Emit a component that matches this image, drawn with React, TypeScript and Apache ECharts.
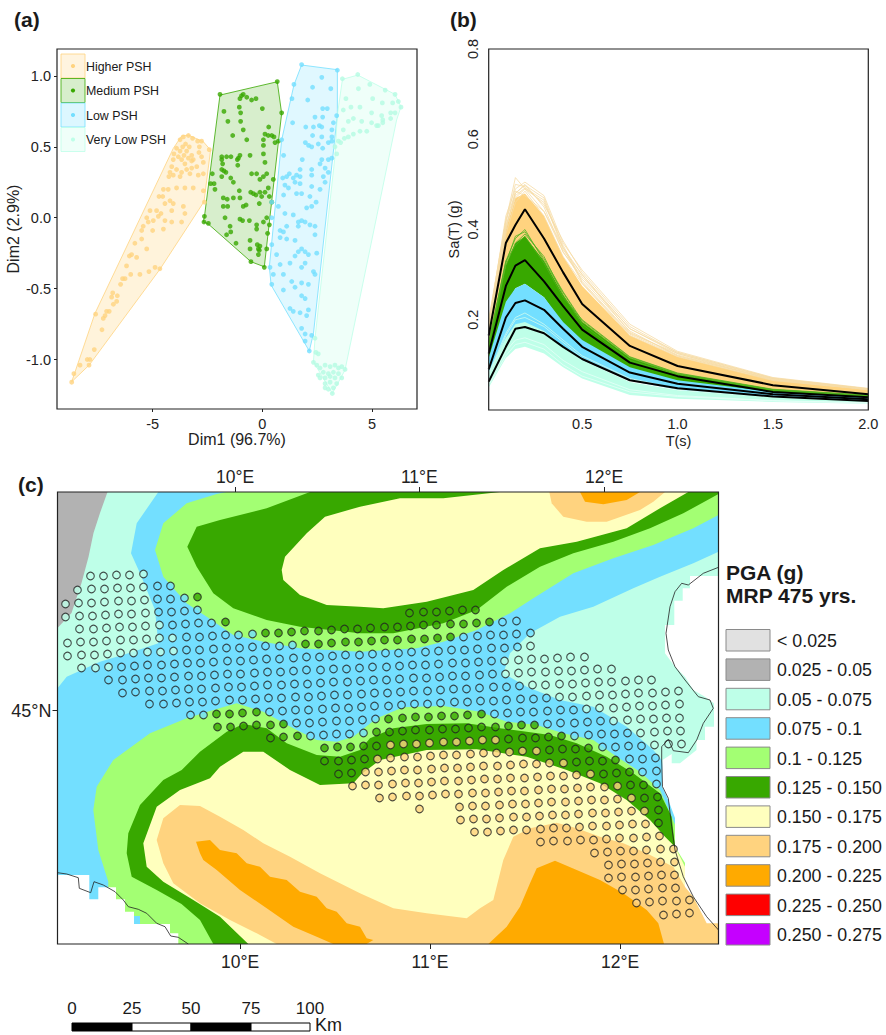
import React, { useEffect, useRef } from "react";
import * as echarts from "echarts";

type P = number[];
const FONT = "Liberation Sans";
const ORANGE = "#FFD37F", GREEN = "#38A800", BLUE = "#73DFFF", MINT = "#BEFFE8";

// ---------- (a) PCA scores, Dim1 / Dim2 ----------
const higherPts: P[] = [[-8.69,-1.16],[-8.59,-1.1],[-8.31,-1.04],[-7.98,-1],[-7.86,-1],[-7.9,-1.04],[-7.66,-.93],[-7.6,-.68],[-7.31,-.79],[-7.25,-.71],[-7.17,-.69],[-7.1,-.66],[-6.98,-.66],[-6.87,-.56],[-6.82,-.53],[-6.64,-.59],[-6.79,-.61],[-6.61,-.55],[-6.46,-.47],[-6.37,-.43],[-6.26,-.43],[-6.19,-.34],[-6,-.4],[-6.06,-.27],[-5.96,-.26],[-5.81,-.18],[-5.73,-.28],[-5.5,-.15],[-5.27,-.22],[-5.58,-.4],[-5.17,-.38],[-4.89,-.35],[-4.67,-.36],[-5.5,-.09],[-5.43,-.06],[-5.27,0],[-5.12,.05],[-5,-.09],[-5.2,-.03],[-4.97,-.02],[-4.82,.05],[-4.51,-.08],[-4.44,-.02],[-4.74,.01],[-4.62,.03],[-4.13,-.03],[-4.13,.05],[-4.71,.15],[-4.51,.2],[-4.29,.2],[-4.54,.15],[-4.21,.12],[-4.06,.1],[-4.44,.1],[-3.6,.08],[-3.53,.03],[-3.68,-.03],[-3.91,.21],[-3.53,.21],[-3.15,.21],[-2.69,.19],[-2.64,.11],[-4.26,.29],[-4.21,.32],[-4.13,.36],[-4.06,.41],[-4.03,.45],[-3.91,.49],[-3.75,.55],[-3.6,.57],[-3.37,.58],[-3.18,.56],[-2.95,.54],[-2.77,.54],[-2.42,.48],[-3.83,.43],[-3.75,.47],[-3.63,.5],[-3.5,.52],[-3.68,.41],[-3.57,.44],[-3.45,.47],[-3.33,.5],[-3.53,.38],[-3.37,.42],[-3.22,.44],[-3.22,.4],[-2.87,.5],[-2.89,.46],[-2.77,.43],[-2.69,.39],[-2.99,.36],[-3.22,.35],[-3.45,.34],[-3.68,.32],[-3.91,.34],[-4.06,.3],[-3.75,.29],[-3.3,.31],[-2.92,.3],[-2.69,.31],[-3.15,.41]];
const mediumPts: P[] = [[-1.93,.87],[.68,.96],[.88,.74],[-.87,.87],[-.95,.86],[-1.02,.84],[-1.05,.78],[-.99,.74],[-.71,.85],[-.49,.83],[-.29,.84],[0,.77],[-1.75,.75],[-1.57,.68],[-.99,.68],[-.87,.62],[-1.35,.58],[-.71,.55],[.29,.64],[.05,.55],[.12,.59],[.27,.58],[.43,.58],[.53,.57],[.58,.53],[.73,.54],[.05,.51],[.05,.45],[.12,.39],[-1.85,.43],[-1.85,.41],[-1.63,.43],[-1.43,.43],[-1.02,.44],[-1.09,.42],[-1.14,.41],[-.56,.44],[-1.81,.38],[-1.85,.34],[-1.75,.33],[-1.66,.32],[-2.28,.31],[-2.36,.24],[-2.2,.24],[-2.16,.2],[-1.85,.29],[-1.44,.28],[-1.32,.25],[-1.12,.37],[-.49,.31],[-.26,.31],[-.11,.27],[.05,.29],[.2,.31],[.5,.27],[-1.78,.14],[-1.6,.13],[-1.32,.14],[-1.05,.19],[-1.02,.14],[-.53,.18],[-.41,.17],[-.29,.16],[-.11,.18],[-.03,.15],[.12,.18],[.27,.21],[.32,.15],[-.74,.09],[-.87,.08],[-.14,.1],[.43,.11],[-1.78,.08],[-1.58,.08],[-1.7,0],[-1.02,-.01],[-.9,-.02],[-.59,-.02],[.05,-.03],[.2,0],[.32,-.05],[-2.64,.01],[-2.66,-.03],[-2.46,-.04],[-1.47,-.06],[-.26,-.05],[-.26,-.08],[-1.44,-.1],[-1.63,-.12],[-1.2,-.18],[-.56,-.16],[.24,-.11],[.2,-.22],[-.23,-.19],[-.18,-.22],[-.11,-.2],[-.14,-.23],[-.18,-.26],[-.56,-.22],[-.52,-.31],[.09,-.35]];
const lowPts: P[] = [[1.79,1.08],[3.42,1.04],[2.71,.99],[1.44,.94],[2.29,.92],[3.12,.91],[1.35,.84],[2.07,.83],[2.75,.77],[2.96,.77],[3.39,.72],[2.75,.71],[2.4,.71],[1.38,.67],[3.24,.67],[2.6,.65],[2.71,.64],[1.98,.64],[2.33,.64],[3.17,.62],[2.29,.58],[2.71,.57],[3.17,.57],[.88,.55],[1.96,.53],[2.11,.51],[2.25,.5],[2.55,.52],[3.01,.53],[3.17,.54],[2.75,.49],[.97,.44],[1.82,.41],[2.71,.41],[3.01,.41],[3.17,.42],[2.63,.38],[2.86,.35],[1.72,.34],[2.25,.34],[3.01,.32],[1.23,.31],[1.11,.29],[.93,.28],[1.41,.28],[1.56,.3],[1.72,.29],[2.25,.3],[2.78,.29],[2.86,.25],[1.03,.23],[1.49,.25],[1.19,.21],[1.72,.24],[2.25,.22],[2.63,.2],[.97,.16],[1.56,.17],[1.79,.17],[2.17,.15],[.43,.11],[.73,.08],[2.45,.11],[2.25,.08],[2.02,.07],[1.03,.03],[1.41,.02],[1.64,-.03],[1.79,-.02],[1.95,-.03],[2.17,-.05],[2.4,-.06],[.43,0],[1.11,-.06],[.96,-.1],[.81,-.09],[1.64,-.06],[2.4,-.12],[1.11,-.15],[.81,-.14],[1.49,-.16],[.43,-.19],[.65,-.26],[1.79,-.22],[1.64,-.24],[1.95,-.24],[1.49,-.27],[2.1,-.26],[2.48,-.25],[.35,-.35],[.81,-.33],[1.26,-.32],[1.79,-.35],[1.95,-.32],[2.33,-.38],[2.4,-.4],[.5,-.4],[.96,-.4],[1.34,-.45],[1.79,-.46],[2.1,-.47],[.43,-.47],[.96,-.51],[1.49,-.49],[1.79,-.55],[1.95,-.57],[1.26,-.64],[1.41,-.66],[1.72,-.67],[2.02,-.69],[2.1,-.65],[1.79,-.78],[1.95,-.82],[2.25,-.83],[1.95,-.87],[2.14,-.94]];
const veryLowPts: P[] = [[3.65,.98],[4.35,1.01],[4.38,.91],[4.9,.94],[5.6,.9],[6.05,.87],[3.81,.84],[5.03,.84],[5.47,.81],[6.2,.82],[6.32,.78],[5.94,.81],[4.45,.78],[4.04,.78],[3.69,.76],[5.44,.72],[4.98,.74],[5.85,.74],[6.05,.74],[4.15,.7],[3.92,.68],[5.85,.7],[5.49,.69],[4.53,.68],[4.98,.67],[5.49,.67],[5.21,.65],[3.69,.62],[4.45,.61],[4.76,.61],[5.29,.65],[4.15,.59],[3.92,.57],[3.74,.56],[3.47,.54],[3.57,.53],[3.31,.5],[3.39,.45],[2.4,-.85],[2.44,-.95],[2.55,-.96],[2.33,-1.02],[2.48,-1.04],[2.63,-1.06],[2.86,-1.04],[3.09,-1.05],[3.31,-1.04],[3.47,-1.06],[3.77,-1.07],[3.62,-1.05],[2.55,-1.11],[2.78,-1.09],[3.01,-1.1],[3.24,-1.09],[3.47,-1.1],[2.63,-1.13],[2.86,-1.13],[3.09,-1.12],[3.31,-1.13],[3.62,-1.13],[2.86,-1.17],[3.09,-1.16],[3.39,-1.17],[2.86,-1.2],[3.01,-1.21],[3.19,-1.24],[3.24,-1.2]];
const higherHull: P[] = [[-8.69,-1.157],[-7.63,-.675],[-4.06,.489],[-3.68,.576],[-3.37,.583],[-2.69,.536],[-2.36,.477],[-2.66,.113],[-4.67,-.364],[-7.89,-1.039]];
const mediumHull: P[] = [[-1.93,.865],[.68,.959],[.88,.736],[.09,-.346],[-.52,-.31],[-2.46,-.045],[-2.69,-.028],[-2.64,.007]];
const lowHull: P[] = [[1.79,1.077],[3.42,1.044],[3.42,.724],[2.33,-.816],[2.14,-.94],[.4,-.475],[.32,-.346],[.88,.548],[1.44,.936]];
const veryLowHull: P[] = [[3.65,.976],[4.35,1.006],[6.05,.87],[6.32,.783],[6.12,.689],[3.77,-1.074],[3.19,-1.239],[2.33,-1.016],[2.4,-.851],[3.31,.43],[3.42,.724]];
const pshNames = ["Higher PSH", "Medium PSH", "Low PSH", "Very Low PSH"];
const dim1Ticks = [-5, 0, 5];
const dim2Ticks = [-1, -.5, 0, .5, 1];

// ---------- (b) spectra ----------
const periods = [.01,.1,.15,.2,.3,.4,.5,.75,1,1.5,2];
const orangeUpper = [.19,.4,.47,.48,.43,.34,.275,.165,.118,.066,.045];
const orangeLower = [.10,.24,.27,.28,.26,.20,.16,.095,.065,.038,.028];
const greenUpper = [.15,.32,.37,.385,.33,.255,.195,.115,.08,.045,.032];
const greenLower = [.10,.23,.27,.28,.25,.19,.15,.09,.06,.036,.024];
const blueUpper = [.115,.24,.27,.28,.25,.195,.155,.095,.066,.04,.027];
const blueLower = [.07,.15,.18,.185,.17,.14,.11,.065,.045,.028,.019];
const mintUpper = [.085,.16,.19,.195,.175,.14,.11,.062,.044,.028,.019];
const mintLower = [.05,.115,.135,.14,.125,.095,.07,.033,.025,.018,.014];
const orangeLines = [
  [.20,.42,.515,.49,.44,.36,.30,.18,.125,.07,.047],
  [.19,.43,.49,.505,.475,.37,.31,.19,.13,.072,.048],
  [.18,.40,.48,.50,.45,.35,.29,.175,.12,.068,.045],
  [.19,.41,.47,.49,.46,.365,.285,.17,.125,.066,.046],
  [.17,.39,.46,.485,.43,.34,.28,.165,.118,.065,.045],
  [.18,.40,.485,.475,.44,.35,.295,.18,.128,.07,.046],
  [.185,.415,.5,.495,.455,.375,.305,.185,.127,.071,.047],
  [.175,.405,.475,.492,.465,.355,.3,.172,.122,.069,.046],
  [.195,.42,.48,.498,.47,.36,.282,.168,.12,.067,.046],
];
const greenLines = [
  [.15,.33,.38,.40,.33,.26,.195,.115,.08,.045,.032],
  [.14,.32,.37,.39,.34,.255,.19,.11,.078,.044,.031],
  [.145,.33,.365,.385,.325,.25,.2,.118,.082,.046,.033],
  [.15,.325,.385,.395,.335,.262,.198,.117,.081,.045,.032],
];
const mintLines = [
  [.08,.17,.205,.215,.19,.155,.12,.07,.047,.03,.02],
  [.075,.165,.2,.205,.185,.15,.115,.068,.046,.029,.02],
];
const paleLines = [
  [.06,.13,.155,.16,.145,.11,.085,.045,.032,.021,.016],
  [.055,.12,.145,.15,.135,.1,.075,.04,.03,.02,.015],
];
const meanHigher = [.165,.37,.41,.445,.38,.305,.235,.142,.0975,.055,.035];
const meanMedium = [.125,.275,.32,.332,.285,.23,.178,.105,.075,.04,.028];
const meanLow = [.09,.205,.237,.243,.222,.18,.14,.083,.058,.035,.024];
const meanVeryLow = [.063,.14,.18,.184,.17,.14,.113,.066,.048,.03,.02];
const periodTicks = [.5, 1, 1.5, 2];
const saTicks = [.2, .4, .6, .8];

// ---------- (c) map, in map units east / south of the sheet's NW corner ----------
const grayZone: P[] = [[0,0],[50,0],[42.5,21],[36,41],[31,65],[24,91],[14,121],[0,136]];
const blueZone: P[] = [[100.8,0],[661,0],[661,59.7],[635.8,71.3],[602.5,84.7],[575.8,96.3],[535.8,114.7],[502.5,124.7],[472.5,141.3],[452.5,161.3],[445.8,181.3],[469.2,194.7],[502.5,208],[535.8,214.7],[569.2,234.7],[595.8,258],[604.2,268],[610,300],[661,452],[0,452],[0,196.3],[9.2,184.7],[42.5,169.7],[75.8,159.7],[100.8,151.3],[97.5,118],[82.5,81.3],[73.5,61.3],[79.2,31.3]];
const lightGreenN: P[] = [[169,0],[661,0],[661,23],[635.8,36.3],[595.8,53],[555.8,66.3],[515.8,81.3],[475.8,106.3],[452.5,121.3],[419.2,138],[385.8,149.7],[359.2,156.3],[302.5,159.7],[242.5,156.3],[205.8,149.7],[175.8,143],[149.2,124.7],[129.2,111.3],[105.8,84.7],[97.5,58],[105.8,31.3],[129.2,11.3],[159.2,2]];
const lightGreenS: P[] = [[129.2,226.3],[155.8,218],[179.2,211.3],[205.8,219.7],[235.8,236.3],[259.2,248],[279.2,249.7],[295.8,244.7],[319.2,226.3],[345.8,215.3],[385.8,214],[422.5,219.7],[449.2,229.7],[479.2,233],[505.8,241.3],[535.8,248],[559.2,264.7],[582.5,279.7],[602.5,298],[625,350],[661,452],[50,452],[50.8,389.7],[40.8,358],[35.8,318],[39.2,294.7],[55.8,268],[92.5,241.3]];
const darkGreenN: P[] = [[129.8,54.7],[139.2,34.7],[162.5,28],[209.2,16.3],[252.5,0],[661,0],[661,2],[625.8,21.3],[592.5,36.3],[555.8,49.7],[515.8,61.3],[482.5,74.7],[449.2,94.7],[419.2,118],[385.8,131.3],[335.8,141.3],[302.5,141.3],[242.5,134.7],[209.2,128],[175.8,116.3],[155.8,101.3],[139.2,74.7]];
const darkGreenS: P[] = [[69.2,361.3],[70.8,341.3],[82.5,313],[105.8,288],[124.2,278],[142.5,259.7],[169.2,239.7],[185.8,232],[209.2,236.3],[229.2,251.3],[259.2,263],[282.5,264.7],[302.5,258],[312.5,246.3],[335.8,236.3],[369.2,232],[409.2,231.3],[442.5,236.3],[469.2,239.7],[492.5,243],[519.2,251.3],[549.2,264.7],[575.8,281.3],[602.5,301.3],[614.2,324.7],[617.5,354.7],[620,452],[155.8,452],[142.5,428],[124,412],[99.2,398],[74.2,384.7]];
const yellowN: P[] = [[224.2,78],[227.5,64.7],[249.2,41.3],[267.5,24.7],[302.5,14.7],[342.5,6.3],[385.8,6.3],[442.5,0],[630.8,0],[602.5,16.3],[569.2,36.3],[519.2,49.7],[482.5,56.3],[445.8,78],[415.8,98],[369.2,109.7],[325.8,116.3],[302.5,114.7],[269.2,113],[242.5,103],[225.8,88]];
const yellowS: P[] = [[85.8,351.3],[99.2,314.7],[122.5,298],[152.5,286.3],[162.5,274.7],[185.8,259.7],[205.8,259.7],[232.5,278],[262.5,293],[295.8,291.3],[304,282],[322.5,268],[369.2,258],[419.2,257.3],[469.2,264.7],[509.2,278],[542.5,291.3],[569.2,308],[592.5,328],[607.5,344.7],[617.5,354.7],[627.5,374.7],[635.8,404.7],[661,452],[190.8,452],[162.5,424.7],[135.8,408],[105.8,389.7],[89.2,374.7]];
const paleOrangeN: P[] = [[491.8,0],[494.2,11.3],[505.8,24.7],[529.2,29.7],[549.2,29.7],[582.5,18],[595.8,9.7],[607.5,0]];
const paleOrangeS: P[] = [[99.2,348],[105.8,326.3],[122.5,313],[142.5,314],[162.5,324.7],[185.8,338],[205.8,351.3],[232.5,364.7],[262.5,381.3],[302.5,401.3],[335.8,416.3],[369.2,421.3],[409.2,426.3],[422.5,416.3],[435.8,408],[445.8,368],[455.8,344.7],[472.5,336.3],[499.2,330.7],[519.2,336.3],[542.5,344.7],[565.8,351.3],[589.2,361.3],[615.8,374.7],[627.5,394.7],[635.8,404.7],[649.2,429.7],[661,431.3],[661,452],[219.2,452],[199.2,441.3],[172.5,428],[142.5,411.3],[115.8,391.3],[105.8,371.3]];
const strongOrangeN: P[] = [[522.5,0],[527.5,9.7],[545.8,12.3],[569.2,8],[582.5,0]];
const strongOrangeSW: P[] = [[138.5,349.7],[152.5,348],[162.5,358],[179.2,361.3],[189.2,371.3],[202.5,374.7],[212.5,384.7],[229.2,388],[242.5,399.7],[259.2,404.7],[269.2,416.3],[279.2,419.7],[289.2,431.3],[302.5,434.7],[309.2,446.3],[315.8,448],[309,452],[275.8,452],[259.2,444.7],[235.8,434.7],[209.2,416.3],[182.5,398],[159.2,378],[145.8,368],[142.5,361.3]];
const strongOrangeSE: P[] = [[430.8,452],[449.2,434.7],[462.5,414.7],[472.5,391.3],[479.2,376.3],[497.5,368.7],[519.2,378],[542.5,388],[565.8,401.3],[589.2,418],[600.8,431.3],[606.5,452]];
const noDataSW: P[] = [[0,383],[31.8,383],[31.8,407.3],[40.8,407.3],[40.8,395.3],[58.5,395.3],[58.5,407.3],[67.5,407.3],[67.5,419.7],[76.5,419.7],[76.5,432],[112.5,432],[112.5,441.3],[120.8,441.3],[120.8,452],[0,452]];
const noDataE: P[] = [[661,84],[632.5,84],[632.5,96.3],[625.2,96.3],[625.2,108.7],[616.8,108.7],[616.8,133],[607.5,133],[607.5,161.3],[617.5,174.7],[627.5,184.7],[635.8,198],[647.5,204.7],[656.5,211.3],[656.5,234.7],[647.5,234.7],[647.5,248],[639,248],[639,258],[622.5,271.3],[614.2,271.3],[614.2,262],[605,268],[604.5,294.7],[610.8,308],[617.5,326],[617.5,354.7],[627.5,371],[627.5,394.7],[635.8,404.7],[649.2,431.3],[661,431.3]];
const bluePatch: P[] = [[76.5,424],[82.5,424],[82.5,432],[76.5,432]];
const coastE: P[] = [[661,75.3],[645.8,81.3],[630.8,93],[624.2,91.3],[617.5,99.7],[612.5,114.7],[608.5,141.3],[610.8,158],[617.5,174.7],[627.5,188],[640.8,204.7],[652.5,208],[655.8,216.3],[645.8,231.3],[639.2,248],[630.8,260.7],[615.8,258.7],[610.8,247.3],[604.2,254.7],[604.2,268],[605,294.7],[610.8,306.3],[614.2,334.7],[617.5,358],[625.8,384.7],[635.8,404.7],[649.2,424.7],[661,438]];
const coastSW: P[] = [[0,380.7],[9.2,382],[20.8,385.7],[21.8,396.3],[33.2,400.7],[36.5,389.7],[45.8,393],[57.5,399.7],[65.8,408],[70.8,414.7],[80.8,417.3],[89.2,421.3],[99.2,431.3],[107.5,434.7],[113.2,444],[120.8,445.3],[130.8,452]];

const sitesMint: P[] = [[33,84],[46,84],[59,83],[72,83],[86,82],[20,98],[34,97],[47,97],[60,96],[73,96],[86,95],[8,112],[21,111],[34,111],[47,110],[61,109],[74,109],[87,108],[8,125],[22,124],[35,124],[48,123],[61,122],[74,122],[88,121],[22,137],[36,137],[49,136],[62,135],[75,135],[88,134],[102,133],[10,151],[23,150],[36,150],[49,149],[63,148],[76,148],[89,147],[102,146],[115,146],[10,164],[24,163],[37,163],[50,162],[63,161],[76,161],[90,160],[103,160],[116,159],[24,176],[38,176],[51,175],[473,154],[447,169],[461,168],[474,167],[487,167],[500,166],[513,165],[527,165],[448,182],[461,181],[474,180],[488,180],[501,179],[514,179],[527,178],[540,177],[554,177],[475,193],[488,193],[502,192],[515,192],[528,191],[541,190],[554,190],[568,189],[581,188],[594,188],[502,205],[515,205],[529,204],[542,203],[555,203],[568,202],[581,201],[595,201],[608,200],[621,199],[529,217],[542,216],[556,216],[569,215],[582,214],[595,214],[608,213],[622,212],[556,229],[570,228],[583,227],[596,227],[609,226],[622,226],[583,241],[597,240],[610,239],[623,239],[597,253],[611,252],[624,252]];
const sitesBlue: P[] = [[100,94],[113,94],[100,107],[113,107],[127,106],[101,120],[114,120],[127,119],[140,118],[115,133],[128,132],[141,131],[154,131],[129,145],[142,145],[155,144],[168,143],[181,143],[195,142],[445,130],[459,129],[129,158],[142,158],[156,157],[169,156],[182,156],[195,155],[208,154],[222,154],[235,153],[406,145],[420,144],[433,143],[446,143],[459,142],[473,141],[64,175],[77,174],[90,173],[104,173],[117,172],[130,171],[143,171],[156,170],[170,169],[183,169],[196,168],[209,167],[222,167],[236,166],[249,165],[262,165],[275,164],[288,163],[302,163],[315,162],[328,161],[341,161],[354,160],[368,160],[381,159],[394,158],[407,158],[420,157],[434,156],[447,156],[460,155],[51,188],[65,188],[78,187],[91,186],[104,186],[117,185],[131,184],[144,184],[157,183],[170,182],[183,182],[197,181],[210,180],[223,180],[236,179],[249,178],[263,178],[276,177],[289,177],[302,176],[315,175],[329,175],[342,174],[355,173],[368,173],[381,172],[395,171],[408,171],[421,170],[434,169],[65,201],[78,200],[92,199],[105,199],[118,198],[131,197],[144,197],[158,196],[171,195],[184,195],[197,194],[210,193],[224,193],[237,192],[250,192],[263,191],[276,190],[290,190],[303,189],[316,188],[329,188],[342,187],[356,186],[369,186],[382,185],[395,184],[408,184],[422,183],[435,182],[92,212],[106,212],[119,211],[132,210],[145,210],[158,209],[172,208],[185,208],[198,207],[211,206],[224,206],[238,205],[251,205],[264,204],[277,203],[290,203],[304,202],[317,201],[330,201],[343,200],[356,199],[370,199],[383,198],[396,197],[409,197],[422,196],[436,195],[449,195],[462,194],[133,223],[146,223],[212,220],[225,219],[238,218],[251,218],[265,217],[278,216],[291,216],[304,215],[317,214],[331,214],[344,213],[357,212],[370,212],[383,211],[397,210],[410,210],[423,209],[436,209],[449,208],[463,207],[476,207],[489,206],[239,231],[252,231],[265,230],[279,229],[292,229],[305,228],[318,227],[437,222],[450,221],[463,220],[476,220],[490,219],[503,218],[516,218],[253,244],[266,243],[279,242],[292,242],[306,241],[490,232],[503,231],[517,231],[530,230],[543,229],[517,244],[531,243],[544,242],[557,242],[570,241],[545,255],[558,255],[571,254],[584,254],[572,267],[585,267],[598,266],[585,280],[599,279],[599,292]];
const sitesGreen: P[] = [[140,105],[168,130],[352,121],[366,120],[379,120],[392,119],[405,118],[418,118],[208,141],[221,141],[234,140],[247,139],[261,139],[274,138],[287,137],[300,137],[313,136],[327,135],[340,135],[353,134],[366,133],[379,133],[393,132],[406,132],[419,131],[432,130],[248,152],[261,152],[274,151],[288,150],[301,150],[314,149],[327,148],[340,148],[354,147],[367,147],[380,146],[393,145],[159,222],[172,222],[185,221],[199,220],[160,235],[173,235],[186,234],[199,233],[213,233],[226,232],[331,227],[345,226],[358,225],[371,225],[384,224],[397,224],[410,223],[424,222],[213,246],[226,245],[240,244],[319,240],[332,240],[345,239],[358,238],[372,238],[385,237],[398,237],[411,236],[424,235],[438,235],[451,234],[464,233],[477,233],[267,256],[280,255],[293,255],[306,254],[319,254],[451,247],[465,246],[478,246],[491,245],[504,244],[267,269],[281,269],[294,268],[307,267],[492,258],[505,257],[518,257],[531,256],[281,282],[294,281],[519,270],[532,269],[545,269],[558,268],[546,282],[559,281],[572,280],[573,293],[586,293],[587,306],[600,305],[601,318],[601,331]];
const sitesOrange: P[] = [[333,253],[346,252],[359,252],[372,251],[386,250],[399,250],[412,249],[425,248],[438,248],[320,267],[333,266],[347,265],[360,265],[373,264],[386,263],[399,263],[413,262],[426,261],[439,261],[452,260],[465,259],[479,259],[308,280],[321,280],[334,279],[347,278],[360,278],[374,277],[387,276],[400,276],[413,275],[426,274],[440,274],[453,273],[466,272],[479,272],[492,271],[506,271],[295,294],[308,293],[321,293],[335,292],[348,291],[361,291],[374,290],[387,289],[401,289],[414,288],[427,287],[440,287],[453,286],[467,286],[480,285],[493,284],[506,284],[519,283],[533,282],[322,306],[335,305],[349,304],[362,304],[375,303],[388,302],[401,302],[415,301],[428,301],[441,300],[454,299],[467,299],[481,298],[494,297],[507,297],[520,296],[533,295],[547,295],[560,294],[362,317],[402,315],[415,314],[428,314],[442,313],[455,312],[468,312],[481,311],[494,310],[508,310],[521,309],[534,308],[547,308],[560,307],[574,306],[403,328],[416,327],[429,327],[442,326],[456,325],[469,325],[482,324],[495,323],[508,323],[521,322],[535,321],[548,321],[561,320],[574,319],[587,319],[417,340],[430,340],[443,339],[456,338],[469,338],[483,337],[496,336],[509,336],[522,335],[535,334],[549,334],[562,333],[575,332],[588,332],[483,350],[496,349],[510,349],[523,348],[536,348],[549,347],[562,346],[576,346],[589,345],[602,344],[537,361],[550,360],[563,359],[576,359],[589,358],[603,357],[616,357],[551,373],[564,372],[577,372],[590,371],[603,370],[617,370],[551,386],[564,385],[578,385],[591,384],[604,383],[617,383],[565,398],[578,398],[591,397],[605,396],[618,396],[579,411],[592,410],[605,409],[619,409],[632,408],[606,423],[619,422],[632,421]];

const topLonTicks = [177.5, 361.8, 546.5];
const bottomLonTicks = [182.5, 372.5, 562.5];
const lonLabels = ["10°E", "11°E", "12°E"];
const latTicks = [218.5];
const pgaClasses = ["< 0.025","0.025 - 0.05","0.05 - 0.075","0.075 - 0.1","0.1 - 0.125","0.125 - 0.150","0.150 - 0.175","0.175 - 0.200","0.200 - 0.225","0.225 - 0.250","0.250 - 0.275"];
const pgaColors = ["#E1E1E1","#B2B2B2",MINT,BLUE,"#A3FF73",GREEN,"#FFFFBE",ORANGE,"#FFAA00","#FF0000","#C500FF"];
const scaleLabels = ["0","25","50","75","100"];

const polygon = (pts: P[], fill: string, xi: number, yi: number, fillOpacity = 1, stroke?: string) => ({
  type: "custom", xAxisIndex: xi, yAxisIndex: yi, data: [pts[0]], silent: true,
  encode: { x: 0, y: 1 },
  renderItem: (_: any, api: any) => ({
    type: "polygon",
    shape: { points: pts.map((p) => api.coord(p)) },
    style: { fill, fillOpacity, stroke: stroke || "none", lineWidth: stroke ? 0.8 : 0 },
  }),
});
const band = (upper: number[], lower: number[], fill: string) =>
  polygon([...periods.map((t, i) => [t, upper[i]]), ...periods.map((t, i) => [t, lower[i]]).reverse()], fill, 1, 1);
const curve = (vals: number[], color: string, width: number, opacity = 1) => ({
  type: "line", xAxisIndex: 1, yAxisIndex: 1, showSymbol: false, silent: true,
  data: periods.map((t, i) => [t, vals[i]]),
  lineStyle: { color, width, opacity },
});
const dots = (pts: P[], color: string) => ({
  type: "scatter", xAxisIndex: 0, yAxisIndex: 0, data: pts, symbolSize: 4.8, silent: true, clip: false,
  itemStyle: { color },
});
const sites = (pts: P[], color: string) => ({
  type: "scatter", xAxisIndex: 2, yAxisIndex: 2, data: pts, symbolSize: 7.6, silent: true, clip: false,
  itemStyle: { color, borderColor: "#222", borderWidth: 1.1 },
});
const coast = (pts: P[]) => ({
  type: "line", xAxisIndex: 2, yAxisIndex: 2, data: pts, showSymbol: false, silent: true,
  lineStyle: { color: "#222", width: 0.8 },
});
const txt = (text: string, x: number, y: number, fontSize: number, bold = false, textAlign = "left") => ({
  type: "text", z: 200, silent: true,
  style: { text, x, y, fill: "#1a1a1a", fontFamily: FONT, fontSize, fontWeight: bold ? "bold" : "normal", textAlign, textVerticalAlign: "middle" },
});
const frame = (x: number, y: number, width: number, height: number) => ({
  type: "rect", z: 150, silent: true, shape: { x, y, width, height },
  style: { fill: "none", stroke: "#222", lineWidth: 1.2 },
});
const noLine = { show: false, onZero: false };
const tickStyle = { lineStyle: { color: "#222", width: 1 } };

export default function App() {
  const ref = useRef<HTMLDivElement>(null);
  useEffect(() => {
    document.body.style.margin = "0";
    const chart = echarts.init(ref.current!, null, { renderer: "svg" });
    const pshColors = [ORANGE, GREEN, BLUE, MINT];
    const keyTops = [54, 78.5, 103, 127.5];
    const graphic: any[] = [
      frame(57, 49, 360, 360), frame(488.7, 49, 379.6, 361), frame(57.5, 492, 661, 452),
      txt("(a)", 14, 19, 21, true), txt("(b)", 450, 19, 21, true), txt("(c)", 18, 484, 21, true),
      txt("PGA (g)", 726, 572, 21, true), txt("MRP 475 yrs.", 726, 595, 21, true),
    ];
    pshNames.forEach((name, i) => {
      graphic.push({ type: "rect", z: 120, silent: true, shape: { x: 61, y: keyTops[i], width: 24, height: 24 },
        style: { fill: pshColors[i], fillOpacity: i === 1 ? 0.2 : 0.25, stroke: pshColors[i], lineWidth: 0.8 } });
      graphic.push({ type: "circle", z: 121, silent: true, shape: { cx: 73, cy: keyTops[i] + 12, r: 2.1 }, style: { fill: pshColors[i] } });
      graphic.push(txt(name, 86, keyTops[i] + 12.5, 12.4));
    });
    pgaClasses.forEach((label, i) => {
      const top = 629.5 + i * 29.4;
      graphic.push({ type: "rect", z: 120, silent: true, shape: { x: 726, y: top, width: 44, height: 21.5 },
        style: { fill: pgaColors[i], stroke: "#8a8a8a", lineWidth: 1 } });
      graphic.push(txt(label, 777, top + 11.5, 17.8));
    });
    const barX = [72, 132, 191, 251, 310];
    scaleLabels.forEach((s, i) => {
      graphic.push(txt(s, barX[i], 1008, 17, false, "center"));
      if (i < 4) graphic.push({ type: "rect", z: 120, silent: true, shape: { x: barX[i], y: 1023, width: barX[i + 1] - barX[i], height: 8 },
        style: { fill: i % 2 ? "#fff" : "#000", stroke: "#000", lineWidth: 1 } });
    });
    graphic.push(txt("Km", 315, 1025, 18));

    chart.setOption({
      animation: false,
      textStyle: { fontFamily: FONT },
      grid: [
        { left: 57, top: 49, width: 360, height: 360 },
        { left: 488.7, top: 49, width: 379.6, height: 361 },
        { left: 57.5, top: 492, width: 661, height: 452 },
      ],
      xAxis: [
        { type: "value", gridIndex: 0, min: -9.36, max: 7.05, splitLine: { show: false }, axisLine: noLine,
          axisTick: { customValues: dim1Ticks, length: 3, ...tickStyle }, axisLabel: { customValues: dim1Ticks, color: "#222", fontSize: 14.5, margin: 7 },
          name: "Dim1 (96.7%)", nameLocation: "middle", nameGap: 21, nameTextStyle: { color: "#222", fontSize: 16 } },
        { type: "value", gridIndex: 1, min: 0.01, max: 2, splitLine: { show: false }, axisLine: noLine, axisTick: { show: false },
          axisLabel: { customValues: periodTicks, color: "#222", fontSize: 14.5, margin: 6, formatter: (v: number) => v.toFixed(1) },
          name: "T(s)", nameLocation: "middle", nameGap: 23, nameTextStyle: { color: "#222", fontSize: 14.5 } },
        { type: "value", gridIndex: 2, min: 0, max: 661, splitLine: { show: false }, axisLine: noLine,
          axisTick: { customValues: bottomLonTicks, length: 5, ...tickStyle },
          axisLabel: { customValues: bottomLonTicks, color: "#222", fontSize: 17.5, margin: 9, formatter: (v: number) => lonLabels[bottomLonTicks.indexOf(v)] } },
        { type: "value", gridIndex: 2, position: "top", min: 0, max: 661, splitLine: { show: false }, axisLine: noLine,
          axisTick: { customValues: topLonTicks, length: 5, ...tickStyle },
          axisLabel: { customValues: topLonTicks, color: "#222", fontSize: 17.5, margin: 6, formatter: (v: number) => lonLabels[topLonTicks.indexOf(v)] } },
      ],
      yAxis: [
        { type: "value", gridIndex: 0, min: -1.349, max: 1.19, splitLine: { show: false }, axisLine: noLine,
          axisTick: { customValues: dim2Ticks, length: 3, ...tickStyle },
          axisLabel: { customValues: dim2Ticks, color: "#222", fontSize: 14.5, margin: 6, formatter: (v: number) => v.toFixed(1) },
          name: "Dim2 (2.9%)", nameLocation: "middle", nameGap: 36, nameTextStyle: { color: "#222", fontSize: 16 } },
        { type: "value", gridIndex: 1, min: 0, max: 0.8, splitLine: { show: false }, axisLine: noLine, axisTick: { show: false },
          axisLabel: { customValues: saTicks, color: "#222", fontSize: 14.5, rotate: 90, margin: 8, formatter: (v: number) => v.toFixed(1) },
          name: "Sa(T) (g)", nameLocation: "middle", nameGap: 27, nameTextStyle: { color: "#222", fontSize: 14.5 } },
        { type: "value", gridIndex: 2, min: 0, max: 452, inverse: true, splitLine: { show: false }, axisLine: noLine,
          axisTick: { customValues: latTicks, length: 5, ...tickStyle },
          axisLabel: { customValues: latTicks, color: "#222", fontSize: 18, margin: 6, formatter: () => "45°N" } },
      ],
      graphic,
      series: [
        polygon(higherHull, ORANGE, 0, 0, 0.28, ORANGE), dots(higherPts, ORANGE),
        polygon(mediumHull, GREEN, 0, 0, 0.2, GREEN), dots(mediumPts, GREEN),
        polygon(lowHull, BLUE, 0, 0, 0.22, BLUE), dots(lowPts, BLUE),
        polygon(veryLowHull, MINT, 0, 0, 0.25, MINT), dots(veryLowPts, "#B4FBE2"),

        ...orangeLines.map((l) => curve(l, "#F6DCA6", 0.8)),
        band(orangeUpper, orangeLower, ORANGE),
        ...greenLines.map((l) => curve(l, "#4FB31F", 0.8)),
        band(greenUpper, greenLower, GREEN),
        band(blueUpper, blueLower, BLUE),
        ...mintLines.map((l) => curve(l, "#CFFBEF", 0.8)),
        band(mintUpper, mintLower, MINT),
        ...paleLines.map((l) => curve(l, "#E6FFF7", 0.8)),
        curve(meanHigher, "#000", 2), curve(meanMedium, "#000", 2), curve(meanLow, "#000", 2), curve(meanVeryLow, "#000", 2),

        polygon([[0,0],[661,0],[661,452],[0,452]], MINT, 2, 2),
        polygon(grayZone, "#B2B2B2", 2, 2),
        polygon(blueZone, BLUE, 2, 2),
        polygon(lightGreenN, "#A3FF73", 2, 2), polygon(lightGreenS, "#A3FF73", 2, 2),
        polygon(darkGreenN, GREEN, 2, 2), polygon(darkGreenS, GREEN, 2, 2),
        polygon(yellowN, "#FFFFBE", 2, 2), polygon(yellowS, "#FFFFBE", 2, 2),
        polygon(paleOrangeN, ORANGE, 2, 2), polygon(paleOrangeS, ORANGE, 2, 2),
        polygon(strongOrangeN, "#FFAA00", 2, 2), polygon(strongOrangeSW, "#FFAA00", 2, 2), polygon(strongOrangeSE, "#FFAA00", 2, 2),
        polygon(noDataSW, "#fff", 2, 2), polygon(noDataE, "#fff", 2, 2), polygon(bluePatch, BLUE, 2, 2),
        coast(coastE), coast(coastSW),
        sites(sitesMint, MINT), sites(sitesBlue, BLUE), sites(sitesGreen, GREEN), sites(sitesOrange, ORANGE),
      ],
    });
    return () => chart.dispose();
  }, []);
  return <div ref={ref} style={{ width: 886, height: 1035 }} />;
}
